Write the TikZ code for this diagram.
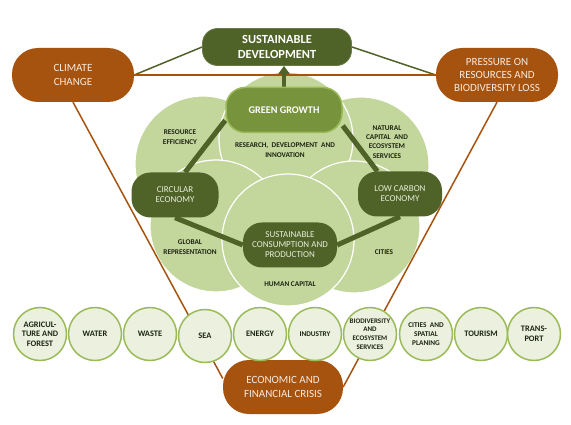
\documentclass[tikz,border=0pt]{standalone}
\usepackage{fontspec}
\setmainfont{Carlito}
\usetikzlibrary{arrows.meta}
\definecolor{dkgreen}{HTML}{4F6228}
\definecolor{olivemid}{HTML}{77933C}
\definecolor{olivelt}{HTML}{9BBB59}
\definecolor{bigfill}{HTML}{C3D69B}
\definecolor{smallfill}{HTML}{EBF1DE}
\definecolor{rust}{HTML}{A65310}
\definecolor{paletext}{HTML}{F7EADF}
\definecolor{greentext}{HTML}{E8EFDC}
\definecolor{labeltext}{HTML}{1E2414}
\pgfdeclarelayer{circles}
\pgfdeclarelayer{lines}
\pgfsetlayers{circles,lines,main}
\begin{document}
\begin{tikzpicture}[x=1pt,y=-1pt,
  bigcirc/.style={circle, fill=bigfill, draw=white, line width=1.2pt, inner sep=0pt},
  lbl/.style={font=\fontsize{7.3}{9.3}\selectfont\bfseries, text=labeltext, align=center, inner sep=0pt},
  smallc/.style={circle, fill=smallfill, draw=olivelt, line width=1.5pt, minimum size=53pt, inner sep=0pt, align=center, font=\fontsize{8.4}{9.6}\selectfont\bfseries, text=labeltext},
  rustpill/.style={rectangle, rounded corners=26pt, fill=rust, text=paletext, align=center, inner sep=0pt, minimum width=122pt, minimum height=54pt, font=\fontsize{11}{13.3}\selectfont},
  darkpill/.style={rectangle, rounded corners=19pt, fill=dkgreen, text=greentext, align=center, inner sep=0pt, minimum height=45pt, font=\fontsize{9}{10}\selectfont},
  thinrust/.style={draw=rust, line width=1.5pt},
  thingreen/.style={draw=dkgreen, line width=1.5pt},
  thickgreen/.style={draw=dkgreen, line width=5pt},
]
\useasboundingbox (0,0) rectangle (571,425);

% big circles
\begin{pgfonlayer}{circles}
\node[bigcirc, minimum size=136pt] (ctl) at (203,164) {};
\node[bigcirc, minimum size=136pt] (ctr) at (361,165) {};
\node[bigcirc, minimum size=134pt] (ctop) at (286,139) {};
\node[bigcirc, minimum size=132pt] (cbl) at (216,226) {};
\node[bigcirc, minimum size=132pt] (cbr) at (354,227) {};
\node[bigcirc, minimum size=132pt] (cbot) at (288,240) {};
\node[lbl] (lres) at (180,137) {RESOURCE\\EFFICIENCY};
\node[lbl] (lrdi) at (285,150) {RESEARCH,\ \ DEVELOPMENT\ \ AND\\INNOVATION};
\node[lbl] (lnat) at (387,142) {NATURAL\\CAPITAL\ \ AND\\ECOSYSTEM\\SERVICES};
\node[lbl] (lglob) at (190,247) {GLOBAL\\REPRESENTATION};
\node[lbl] (lcit) at (384,252) {CITIES};
\node[lbl] (lhum) at (290,284) {HUMAN CAPITAL};
\end{pgfonlayer}

% main nodes
\node[rectangle, rounded corners=15pt, fill=dkgreen, draw=dkgreen!85!white, line width=0.8pt, text=white, align=center, inner sep=0pt, minimum width=149pt, minimum height=37pt, font=\fontsize{12.4}{15}\selectfont\bfseries] (sd) at (277,47) {SUSTAINABLE\\DEVELOPMENT};
\node[rectangle, rounded corners=19pt, fill=olivemid, draw=olivelt, line width=1.5pt, text=white, align=center, inner sep=0pt, minimum width=116pt, minimum height=45pt, font=\fontsize{10.2}{12}\selectfont\bfseries] (gg) at (284,110) {GREEN GROWTH};
\node[rustpill] (cc) at (73,75) {CLIMATE\\CHANGE};
\node[rustpill] (pr) at (497,75) {PRESSURE ON\\RESOURCES AND\\BIODIVERSITY LOSS};
\node[rustpill, minimum width=120pt] (ec) at (283,387) {ECONOMIC AND\\FINANCIAL CRISIS};
\node[darkpill, minimum width=87pt] (ce) at (175,195) {CIRCULAR\\ECONOMY};
\node[darkpill, minimum width=84pt] (lc) at (400,194) {LOW CARBON\\ECONOMY};
\node[darkpill, minimum width=94pt] (sc) at (290,245) {SUSTAINABLE\\CONSUMPTION AND\\PRODUCTION};

% small circles
\node[smallc] (s1) at (40,334) {AGRICUL-\\TURE AND\\FOREST};
\node[smallc] (s2) at (95,334) {WATER};
\node[smallc] (s3) at (150,334) {WASTE};
\node[smallc] (s4) at (205,336) {SEA};
\node[smallc] (s5) at (260,334) {ENERGY};
\node[smallc, font=\fontsize{7.3}{9}\selectfont\bfseries] (s6) at (315,334) {INDUSTRY};
\node[smallc, font=\fontsize{7}{8.7}\selectfont\bfseries] (s7) at (370,334) {BIODIVERSITY\\AND\\ECOSYSTEM\\SERVICES};
\node[smallc, font=\fontsize{7.3}{8.9}\selectfont\bfseries] (s8) at (426,334) {CITIES\ \ AND\\SPATIAL\\PLANING};
\node[smallc] (s9) at (481,334) {TOURISM};
\node[smallc] (s10) at (534,334) {TRANS-\\PORT};

% connectors
\begin{pgfonlayer}{lines}
\draw[thingreen] (cc.east) -- (sd.west);
\draw[thingreen] (sd.east) -- (pr.west);
\draw[thinrust] (cc.east) -- (pr.west);
\draw[thinrust] (cc.south) -- (ec.172);
\draw[thinrust] (pr.south) -- (ec.east);
\draw[thickgreen] (gg.190) -- (ce.66);
\draw[thickgreen] (gg.-15) -- (lc.135);
\draw[thickgreen] (ce.south) -- (sc.west);
\draw[thickgreen] (lc.south) -- (sc.east);
\draw[draw=dkgreen, line width=4pt, -{Triangle[width=11pt,length=8pt]}] (gg.north) -- (gg.north |- sd.south);
\end{pgfonlayer}
\end{tikzpicture}
\end{document}
